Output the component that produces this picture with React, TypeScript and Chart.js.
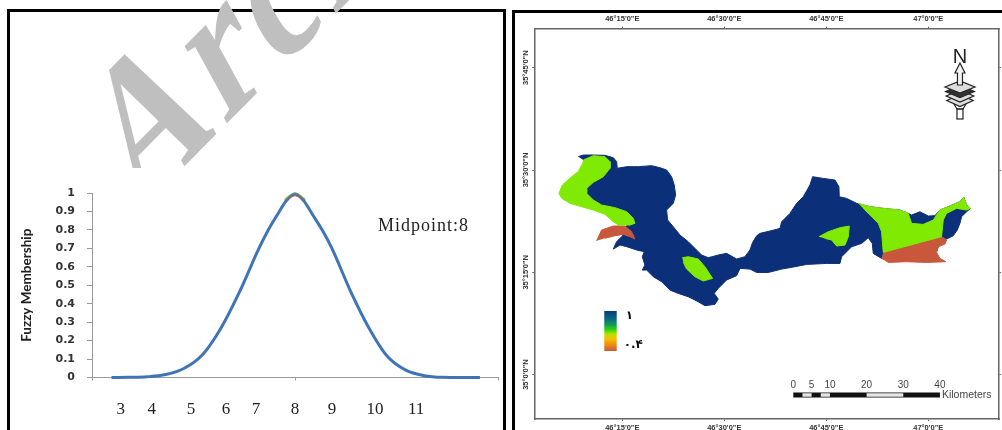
import React, { useEffect, useRef } from "react";
import { Chart, registerables } from "chart.js";

Chart.register(...registerables);

// ---------- left panel: fuzzy membership curve ----------
const curveX = [3.03, 3.5, 4, 4.5, 5, 5.5, 6, 6.5, 7, 7.25, 7.5, 7.75, 7.9, 8, 8.1, 8.25, 8.5, 8.75, 9, 9.5, 10, 10.5, 11, 11.5, 12, 12.5, 13.01];
const curveY = [0, 0.001, 0.004, 0.016, 0.05, 0.125, 0.27, 0.465, 0.69, 0.79, 0.875, 0.955, 0.985, 0.995, 0.985, 0.955, 0.875, 0.795, 0.7, 0.47, 0.27, 0.115, 0.04, 0.01, 0.001, 0, 0];
const peakX = [7.72, 8, 8.28];
const peakGreenY = [0.965, 1.0, 0.965];
const peakRedY = [0.96, 0.985, 0.96];
const xTickPositions = [2.5, 3.28, 4.12, 5.18, 6.13, 6.94, 8, 9, 10.17, 11.28, 13.5];
const xTickLabels = ["", "3", "4", "5", "6", "7", "8", "9", "10", "11", ""];
const xTickMarks = [2.5, 8, 13.5];
const yTickValues = [0, 0.1, 0.2, 0.3, 0.4, 0.5, 0.6, 0.7, 0.8, 0.9, 1];
const yTickLabels = ["0", "0.1", "0.2", "0.3", "0.4", "0.5", "0.6", "0.7", "0.8", "0.9", "1"];
const midpointLabel = "Midpoint:8";
const yTitle = "Fuzzy Membership";
const watermark = "Archive of SID";

// ---------- right panel: map, in arc-minutes past 46°E / 35°N ----------
const lonTickValues = [15, 30, 45, 60];
const lonTickLabels = ['46°15\'0"E', '46°30\'0"E', '46°45\'0"E', '47°0\'0"E'];
const latTickValues = [45, 30, 15, 0];
const latTickLabels = ['35°45\'0"N', '35°30\'0"N', '35°15\'0"N', '35°0\'0"N'];

const basin: number[][] = [
  [8.53, 31.96], [9.27, 32.2], [10.74, 32.2], [12.45, 32.15], [13.68, 31.81], [14.17, 31.22], [14.26, 30.25], [15.64, 30.49], [17.35, 30.49], [19.31, 30.64], [20.54, 30.34], [21.52, 30], [22.25, 29.02], [22.64, 27.8], [22.84, 26.34], [22.5, 25.11], [21.52, 24.13], [21.66, 22.67], [22.5, 21.69], [23.48, 20.47], [24.7, 19.49], [25.68, 18.51], [26.66, 17.53], [27.64, 17.14], [29.11, 17.53], [30.34, 17.78], [31.81, 16.95], [33.03, 17.29], [33.77, 18.27],
  [34.17, 19.39], [34.76, 20.36], [35.25, 20.71], [36.72, 21.05], [38.19, 21.44], [38.44, 22.42], [39.66, 23.64], [40.64, 25.11], [41.62, 26.08], [42.6, 27.8], [42.99, 29.02], [44.56, 28.77], [46.28, 28.53], [46.86, 27.55], [46.91, 26.08], [47.99, 25.84], [49.46, 25.11], [51.42, 24.62], [53.38, 24.37], [55.83, 24.13], [57.06, 23.64], [57.55, 23.4], [58.77, 23.88], [60, 23.25], [60.98, 23.3], [61.71, 24.13], [62.94, 24.62], [64.65, 25.35], [65.24, 25.99], [65.63, 24.86], [66.22, 24.37], [65.63, 23.88], [64.9, 23.15], [64.65, 22.17], [64.26, 21.19], [63.67, 20.36], [62.69, 19.87], [61.95, 20.22],
  [61.22, 18.02], [56.81, 16.79], [53.87, 16.79], [53.13, 17.04], [51.91, 17.77], [51.76, 19.24], [51.18, 20.07], [50.2, 19.24], [48.73, 18.75], [47.26, 17.28], [47.01, 16.3], [45.05, 16.3], [42.11, 16.16], [40.4, 15.82], [38.44, 15.47], [36.48, 14.98], [34.76, 14.98], [33.78, 15.47], [32.31, 15.57],
  [31.81, 14.5], [30.34, 13.87], [29.11, 12.64], [28.52, 11.91], [29.11, 11.08], [28.62, 10.3], [27.15, 10.1], [26.17, 10.69], [24.7, 11.42], [23.23, 11.91], [22.01, 12.4], [20.78, 13.62], [19.56, 14.36], [18.58, 15.33], [17.94, 15.33], [18.33, 16.07], [17.94, 17.29], [18.23, 18.02], [17.11, 18.27], [15.64, 18.76], [14.66, 19], [13.68, 18.41], [14.17, 19.49], [14.9, 20.22], [15.49, 20.86], [15.64, 21.93], [14.41, 23.65], [11.47, 24.62], [8.53, 27.31], [10.49, 29.76], [10.98, 31.22], [9.27, 31.47],
];
const greenWest: number[][] = [
  [9.27, 31.47], [10.74, 32.1], [12.45, 31.96], [13.19, 31.22], [13.19, 30.25], [12.21, 29.02], [10.74, 28.19], [9.76, 27.31], [9.76, 26.58], [10.74, 25.6], [11.96, 24.87], [13.92, 24.48], [15.64, 23.89], [16.62, 22.91], [16.86, 22.18], [16.13, 21.93], [14.41, 21.93], [13.68, 22.42], [12.45, 23.5], [10.74, 24.13], [9.02, 24.62], [7.31, 25.11], [6.08, 25.85], [5.69, 26.58], [6.18, 27.8], [7.55, 29.02], [8.53, 29.76], [9.02, 30.74],
];
const redWest: number[][] = [
  [11.23, 19.63], [11.96, 21.2], [13.68, 21.79], [15.39, 21.79], [16.37, 20.96], [16.86, 19.88], [16.13, 20.22], [15.15, 20.56], [13.92, 20.37], [12.45, 19.98],
];
const greenSouth: number[][] = [
  [23.82, 17.14], [24.7, 17.29], [26.17, 16.95], [27.15, 15.82], [28.28, 14.11], [26.91, 13.72], [25.68, 14.35], [24.46, 15.48], [23.97, 16.46],
];
const greenCentre: number[][] = [
  [43.92, 20.22], [45.3, 20.95], [47.01, 21.54], [48.38, 21.78], [48.24, 20.22], [47.75, 19], [46.52, 18.85], [45.79, 19.73], [44.8, 19.97],
];
const greenEast: number[][] = [
  [49.7, 25.11], [51.42, 24.62], [53.38, 24.37], [55.83, 24.13], [57.06, 23.64], [57.55, 22.17], [59.26, 22.03], [60.73, 22.66], [61.71, 24.13], [62.94, 24.62], [64.65, 25.35], [65.24, 25.99], [65.63, 24.86], [66.22, 24.37], [65.63, 24.13], [64.16, 24.37], [62.69, 23.64], [62.2, 22.66], [61.95, 20.22], [53.38, 17.92], [53.13, 20.95], [52.65, 22.17], [51.42, 23.4], [50.44, 24.37],
];
const redEast: number[][] = [
  [53.38, 17.92], [61.95, 20.22], [62.69, 19.73], [62.45, 19.14], [61.47, 18.75], [61.22, 17.92], [61.71, 17.04], [62.59, 16.55], [59.75, 16.45], [56.81, 16.55], [54.12, 16.45], [53.13, 17.14],
];

const scaleBreaks = [0, 2.5, 5, 7.5, 10, 20, 30, 40];
const scaleLabels = [0, 5, 10, 20, 30, 40];
const scaleOriginLon = 40.15;
const lonPerKm = 0.539;
const scaleLat = -3.0;
const scaleLabelLat = -1.52;
const scaleUnit = "Kilometers";
const legendBox = { lonL: 12.35, lonR: 14.18, latT: 9.33, latB: 3.46 };
const legendStops: [number, string][] = [[0, "#0b3a80"], [0.22, "#0d6f7c"], [0.36, "#15a24e"], [0.47, "#2fd60a"], [0.58, "#b8e000"], [0.7, "#f5c000"], [0.85, "#e98a10"], [1, "#c8573b"]];
const legendHigh = "۱";
const legendLow = "۰.۴";
const legendHighLat = 8.6;
const legendLowLat = 4.3;
const legendTextLon = 15.2;
const northAnchor = { lon: 64.66, lat: 47.89 };

const BLUE = "#0b2f78";
const GREEN = "#80ea02";
const RED = "#c8573b";

const toPts = (xs: number[], ys: number[]) => xs.map((x, i) => ({ x, y: ys[i] }));
const toPoly = (p: number[][]) => p.map(([x, y]) => ({ x, y }));
const shape = (p: number[][], color: string, order: number) => ({
  data: toPoly(p),
  borderColor: color,
  backgroundColor: color,
  borderWidth: 1,
  pointRadius: 0,
  fill: "shape",
  tension: 0,
  order,
});

function leftConfig(): any {
  const panel = {
    id: "leftPanel",
    afterDraw(chart: any) {
      const c = chart.ctx;
      c.save();
      c.fillStyle = "#000";
      c.fillRect(7, 9, 499, 3);
      c.fillRect(7, 9, 3, 421);
      c.fillRect(503, 9, 3, 421);
      const x = chart.scales.x;
      const y = chart.scales.y;
      c.fillStyle = "#222";
      c.font = "18px 'Liberation Serif'";
      (c as any).letterSpacing = "1px";
      c.textBaseline = "middle";
      c.fillText(midpointLabel, x.getPixelForValue(10.25), y.getPixelForValue(0.82));
      (c as any).letterSpacing = "0px";
      c.restore();
      c.save();
      c.beginPath();
      c.rect(0, 0, 508, 168);
      c.clip();
      c.transform(0.685, -0.69, 0.576, 1.05, 138, 213);
      c.fillStyle = "#bfbfbf";
      c.font = "bold 160px 'Liberation Serif'";
      (c as any).letterSpacing = "10px";
      c.textBaseline = "alphabetic";
      c.fillText(watermark, 0, 0);
      (c as any).letterSpacing = "0px";
      c.restore();
    },
  };
  return {
    type: "line",
    data: {
      datasets: [
        { data: toPts(peakX, peakGreenY), borderColor: "#6aa84f", borderWidth: 1.2, pointRadius: 0, clip: false, tension: 0.4, order: 1 },
        { data: toPts(peakX, peakRedY), borderColor: "#c0504d", borderWidth: 1, pointRadius: 0, clip: false, tension: 0.4, order: 1 },
        { data: toPts(curveX, curveY), borderColor: "#3f74b8", borderWidth: 3, pointRadius: 0, clip: false, cubicInterpolationMode: "monotone", order: 2 },
      ],
    },
    options: {
      animation: false,
      responsive: false,
      layout: { padding: { top: 193, right: 10, left: 0, bottom: 0 } },
      plugins: { legend: { display: false }, tooltip: { enabled: false } },
      scales: {
        x: {
          type: "linear",
          min: 2.5,
          max: 13.5,
          afterBuildTicks: (a: any) => { a.ticks = xTickPositions.map((value) => ({ value })); },
          afterFit: (s: any) => { s.height = 52.5; s.paddingRight = 0; s.paddingLeft = 0; },
          border: { color: "#9a9a9a" },
          grid: {
            drawOnChartArea: false,
            tickLength: 3,
            tickColor: (ctx: any) => (ctx.tick && xTickMarks.includes(ctx.tick.value) ? "#9a9a9a" : "rgba(0,0,0,0)"),
          },
          ticks: {
            autoSkip: false,
            maxRotation: 0,
            padding: 19,
            color: "#222",
            font: { family: "Liberation Serif", size: 17 },
            callback: (v: number) => xTickLabels[xTickPositions.indexOf(v)] ?? "",
          },
        },
        y: {
          min: 0,
          max: 1,
          afterBuildTicks: (a: any) => { a.ticks = yTickValues.map((value) => ({ value })); },
          afterFit: (s: any) => { s.width = 92; },
          border: { color: "#9a9a9a" },
          grid: { drawOnChartArea: false, tickLength: 5, tickColor: "#9a9a9a" },
          ticks: {
            autoSkip: false,
            padding: 12,
            color: "#333",
            font: { family: "DejaVu Sans", weight: "bold", size: 11 },
            callback: (v: number) => yTickLabels[yTickValues.indexOf(v)] ?? "",
          },
          title: {
            display: true,
            text: yTitle,
            color: "#222",
            padding: { top: 19, bottom: 0 },
            font: { family: "Lato", weight: "bold", size: 13.5 },
          },
        },
      },
    },
    plugins: [panel],
  };
}

function rightConfig(): any {
  const lonAt = (km: number) => scaleOriginLon + km * lonPerKm;
  const segs: any[] = [
    {
      data: [{ x: lonAt(0), y: scaleLat }, { x: lonAt(40), y: scaleLat }],
      borderColor: "#111",
      borderWidth: 5,
      pointRadius: 0,
      order: 2,
    },
  ];
  scaleBreaks.slice(0, -1).forEach((km, i) => {
    if (i % 2 === 1) {
      segs.push({
        data: [{ x: lonAt(km), y: scaleLat }, { x: lonAt(scaleBreaks[i + 1]), y: scaleLat }],
        borderColor: "#e6e6e6",
        borderWidth: 3.4,
        pointRadius: 0,
        order: 1,
      });
    }
  });
  const panel = {
    id: "rightPanel",
    afterDatasetsDraw(chart: any) {
      const c = chart.ctx;
      const x = chart.scales.x;
      const y = chart.scales.y;
      c.save();
      c.fillStyle = "#000";
      c.fillRect(4, 10, 490, 3);
      c.fillRect(4, 10, 3, 420);

      // colour legend
      const lx = x.getPixelForValue(legendBox.lonL);
      const rx = x.getPixelForValue(legendBox.lonR);
      const ty = y.getPixelForValue(legendBox.latT);
      const by = y.getPixelForValue(legendBox.latB);
      const g = c.createLinearGradient(0, ty, 0, by);
      legendStops.forEach(([o, col]) => g.addColorStop(o, col));
      c.fillStyle = g;
      c.fillRect(lx, ty, rx - lx, by - ty);
      c.fillStyle = "#111";
      c.font = "bold 12px 'DejaVu Sans'";
      c.textBaseline = "middle";
      c.textAlign = "left";
      const tx = x.getPixelForValue(legendTextLon);
      c.fillText(legendHigh, tx + 2, y.getPixelForValue(legendHighLat));
      c.fillText(legendLow, tx, y.getPixelForValue(legendLowLat));

      // scale-bar text
      c.fillStyle = "#444";
      c.font = "10px 'Liberation Sans'";
      c.textAlign = "center";
      scaleLabels.forEach((km) => {
        c.fillText(String(km), x.getPixelForValue(lonAt(km)), y.getPixelForValue(scaleLabelLat));
      });
      c.textAlign = "left";
      c.font = "10.5px 'Liberation Sans'";
      c.fillText(scaleUnit, x.getPixelForValue(lonAt(40)) + 2, y.getPixelForValue(scaleLat));

      // north arrow
      const cx = x.getPixelForValue(northAnchor.lon);
      const y0 = y.getPixelForValue(northAnchor.lat);
      c.fillStyle = "#222";
      c.font = "20px 'Liberation Sans'";
      c.textAlign = "center";
      c.textBaseline = "top";
      c.fillText("N", cx, y0 - 1);
      c.strokeStyle = "#222";
      c.lineWidth = 1.2;
      for (let k = 3; k >= 0; k--) {
        const my = y0 + 39 + k * 4.5;
        const hw = 15 - k * 0.6;
        c.beginPath();
        c.moveTo(cx - hw, my);
        c.lineTo(cx, my - 6);
        c.lineTo(cx + hw, my);
        c.lineTo(cx, my + 6);
        c.closePath();
        c.fillStyle = k === 1 ? "#333" : "#ddd";
        c.fill();
        c.stroke();
      }
      c.beginPath();
      c.moveTo(cx, y0 + 15);
      c.lineTo(cx + 5, y0 + 25);
      c.lineTo(cx + 2.5, y0 + 25);
      c.lineTo(cx + 2.5, y0 + 37);
      c.lineTo(cx - 2.5, y0 + 37);
      c.lineTo(cx - 2.5, y0 + 25);
      c.lineTo(cx - 5, y0 + 25);
      c.closePath();
      c.fillStyle = "#f2f2f2";
      c.fill();
      c.stroke();
      c.beginPath();
      c.moveTo(cx - 6, y0 + 56);
      c.lineTo(cx - 3, y0 + 61);
      c.lineTo(cx + 3, y0 + 61);
      c.lineTo(cx + 6, y0 + 56);
      c.stroke();
      c.strokeRect(cx - 3, y0 + 61, 6, 10);
      c.restore();
    },
  };
  const lonAxis = (pos: string, h: number, pad: number) => ({
    type: "linear",
    position: pos,
    min: 2.06,
    max: 70.4,
    afterBuildTicks: (a: any) => { a.ticks = lonTickValues.map((value) => ({ value })); },
    afterFit: (s: any) => { s.height = h; },
    border: { color: "#666", width: 1.5 },
    grid: { drawOnChartArea: false, tickLength: 2, tickColor: "#666" },
    ticks: {
      autoSkip: false,
      maxRotation: 0,
      padding: pad,
      color: "#333",
      font: { family: "Liberation Sans", weight: "bold", size: 7.5 },
      callback: (v: number) => lonTickLabels[lonTickValues.indexOf(v)] ?? "",
    },
  });
  return {
    type: "line",
    data: {
      datasets: [
        shape(basin, BLUE, 4),
        shape(greenWest, GREEN, 3),
        shape(redWest, RED, 3),
        shape(greenSouth, GREEN, 3),
        shape(greenCentre, GREEN, 3),
        shape(greenEast, GREEN, 3),
        shape(redEast, RED, 3),
        ...segs,
      ],
    },
    options: {
      animation: false,
      responsive: false,
      layout: { padding: 0 },
      plugins: { legend: { display: false }, tooltip: { enabled: false } },
      scales: {
        x: lonAxis("bottom", 11, 2),
        x2: lonAxis("top", 28.7, 3),
        y: {
          type: "linear",
          position: "left",
          min: -6.51,
          max: 50.72,
          afterBuildTicks: (a: any) => { a.ticks = latTickValues.map((value) => ({ value })); },
          afterFit: (s: any) => { s.width = 26.3; },
          border: { color: "#666", width: 1.5 },
          grid: { drawOnChartArea: false, tickLength: 2, tickColor: "#666" },
          ticks: {
            autoSkip: false,
            minRotation: 90,
            maxRotation: 90,
            crossAlign: "center",
            padding: -11,
            color: "#333",
            font: { family: "Liberation Sans", weight: "bold", size: 7.5 },
            callback: (v: number) => latTickLabels[latTickValues.indexOf(v)] ?? "",
          },
        },
        y2: {
          type: "linear",
          position: "right",
          min: -6.51,
          max: 50.72,
          afterBuildTicks: (a: any) => { a.ticks = latTickValues.map((value) => ({ value })); },
          afterFit: (s: any) => { s.width = 3; },
          border: { color: "#666", width: 1.5 },
          grid: { drawOnChartArea: false, tickLength: 2, tickColor: "#666" },
          ticks: { display: false },
        },
      },
    },
    plugins: [panel],
  };
}

export default function App() {
  const leftRef = useRef<HTMLCanvasElement>(null);
  const rightRef = useRef<HTMLCanvasElement>(null);
  useEffect(() => {
    const a = new Chart(leftRef.current as HTMLCanvasElement, leftConfig());
    const b = new Chart(rightRef.current as HTMLCanvasElement, rightConfig());
    return () => {
      a.destroy();
      b.destroy();
    };
  }, []);
  return (
    <div style={{ position: "fixed", left: 0, top: 0, width: 1002, height: 430, background: "#fff", overflow: "hidden" }}>
      <canvas ref={leftRef} width={508} height={430} style={{ position: "absolute", left: 0, top: 0, width: 508, height: 430, filter: "blur(0.4px)" }} />
      <canvas ref={rightRef} width={494} height={430} style={{ position: "absolute", left: 508, top: 0, width: 494, height: 430, filter: "blur(0.7px)" }} />
    </div>
  );
}
